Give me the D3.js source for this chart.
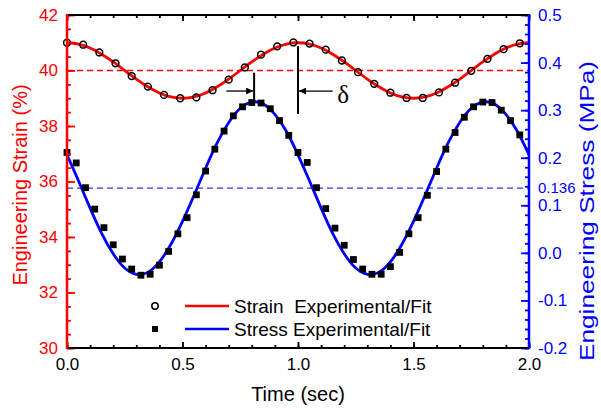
<!DOCTYPE html>
<html>
<head>
<meta charset="utf-8">
<script src="https://cdn.jsdelivr.net/npm/d3@7"></script>
<style>
  body { margin: 0; background: #fff; }
  text { font-family: "Liberation Sans", Arial, sans-serif; }
</style>
</head>
<body>
<div id="container"></div>
<script>
var width = 601,
    height = 410;

// strain experimental (open circles)
var strainTime = [0, 0.07, 0.14, 0.21, 0.28, 0.35, 0.42, 0.49, 0.56, 0.63, 0.70, 0.77, 0.84, 0.91, 0.98,
    1.05, 1.12, 1.19, 1.26, 1.33, 1.40, 1.47, 1.54, 1.61, 1.68, 1.75, 1.82, 1.89, 1.96];
var strainExp = [41.00, 40.93, 40.65, 40.26, 39.80, 39.42, 39.12, 39.00, 39.03, 39.29, 39.67, 40.11, 40.57, 40.87, 41.01,
    40.97, 40.75, 40.36, 39.94, 39.52, 39.20, 39.01, 39.01, 39.21, 39.56, 39.99, 40.42, 40.77, 40.98];

// stress experimental (filled squares)
var stressTime = [0, 0.04, 0.08, 0.12, 0.16, 0.20, 0.24, 0.28, 0.32, 0.36, 0.40, 0.44, 0.48, 0.52, 0.56, 0.60,
    0.64, 0.68, 0.72, 0.76, 0.80, 0.84, 0.88, 0.92, 0.96, 1.00, 1.04, 1.08, 1.12, 1.16, 1.20, 1.24, 1.28,
    1.32, 1.36, 1.40, 1.44, 1.48, 1.52, 1.56, 1.60, 1.64, 1.68, 1.72, 1.76, 1.80, 1.84, 1.88, 1.92, 1.96];
var stressExp = [0.211, 0.189, 0.137, 0.092, 0.053, 0.017, -0.013, -0.034, -0.047, -0.045, -0.026, 0.003, 0.040,
    0.074, 0.122, 0.172, 0.218, 0.256, 0.288, 0.307, 0.316, 0.315, 0.303, 0.278, 0.247, 0.211, 0.190, 0.137,
    0.093, 0.052, 0.016, -0.014, -0.034, -0.045, -0.045, -0.029, 0.001, 0.040, 0.074, 0.121, 0.171, 0.218,
    0.253, 0.285, 0.307, 0.317, 0.316, 0.300, 0.278, 0.248];

// fit curves
var fitTime = [0, 0.05, 0.10, 0.15, 0.20, 0.25, 0.30, 0.35, 0.40, 0.45, 0.50, 0.55, 0.60, 0.65, 0.70, 0.75,
    0.80, 0.85, 0.90, 0.95, 1.00, 1.05, 1.10, 1.15, 1.20, 1.25, 1.30, 1.35, 1.40, 1.45, 1.50, 1.55, 1.60,
    1.65, 1.70, 1.75, 1.80, 1.85, 1.90, 1.95, 2.00];
var strainFit = [41.000, 40.951, 40.809, 40.588, 40.309, 40.000, 39.691, 39.412, 39.191, 39.049, 39.000,
    39.049, 39.191, 39.412, 39.691, 40.000, 40.309, 40.588, 40.809, 40.951, 41.000,
    40.951, 40.809, 40.588, 40.309, 40.000, 39.691, 39.412, 39.191, 39.049, 39.000,
    39.049, 39.191, 39.412, 39.691, 40.000, 40.309, 40.588, 40.809, 40.951, 41.000];
var stressFit = [0.206, 0.151, 0.094, 0.041, -0.002, -0.032, -0.045, -0.041, -0.019, 0.018, 0.066,
    0.121, 0.178, 0.231, 0.274, 0.304, 0.317, 0.313, 0.291, 0.255, 0.206,
    0.151, 0.094, 0.041, -0.002, -0.032, -0.045, -0.041, -0.019, 0.018, 0.066,
    0.121, 0.178, 0.231, 0.274, 0.304, 0.317, 0.313, 0.291, 0.255, 0.206];

var strainMean = 40, stressMean = 0.136;

var xTicks = [0, 0.5, 1.0, 1.5, 2.0];
var leftTicks = [30, 32, 34, 36, 38, 40, 42];
var rightTicks = [-0.2, -0.1, 0.0, 0.1, 0.2, 0.3, 0.4, 0.5];

// phase lag annotation (time of stress peak, time of strain peak)
var deltaFrom = 0.81, deltaTo = 1.0;

var red = "#ff0000", blue = "#0000ff";

var svg = d3.select("#container")
    .append("svg")
    .attr("width", width)
    .attr("height", height);

var x = d3.scaleLinear().domain([0, 2]).range([67, 529]);
var yL = d3.scaleLinear().domain([30, 42]).range([348, 15]);
var yR = d3.scaleLinear().domain([-0.2, 0.5]).range([348, 15]);

// dashed mean lines
svg.append("line")
    .attr("x1", x(0)).attr("x2", x(2))
    .attr("y1", yL(strainMean)).attr("y2", yL(strainMean))
    .attr("stroke", red).attr("stroke-width", 1.3)
    .attr("stroke-dasharray", "6,4");
svg.append("line")
    .attr("x1", x(0)).attr("x2", x(2))
    .attr("y1", yR(stressMean)).attr("y2", yR(stressMean))
    .attr("stroke", "#3030ff").attr("stroke-width", 1.3)
    .attr("stroke-dasharray", "6,4");

// fit lines
var strainLine = d3.line()
    .x(function (d, i) { return x(fitTime[i]) })
    .y(function (d) { return yL(d) })
    .curve(d3.curveNatural);
var stressLine = d3.line()
    .x(function (d, i) { return x(fitTime[i]) })
    .y(function (d) { return yR(d) })
    .curve(d3.curveNatural);

svg.append("path")
    .attr("d", strainLine(strainFit))
    .attr("fill", "none").attr("stroke", red).attr("stroke-width", 2.8);
svg.append("path")
    .attr("d", stressLine(stressFit))
    .attr("fill", "none").attr("stroke", blue).attr("stroke-width", 2.8);

// experimental markers
svg.append("g")
    .selectAll("circle")
    .data(strainExp)
    .enter().append("circle")
    .attr("cx", function (d, i) { return x(strainTime[i]) })
    .attr("cy", function (d) { return yL(d) })
    .attr("r", 3.4)
    .attr("fill", "none")
    .attr("stroke", "black")
    .attr("stroke-width", 1.5);

svg.append("g")
    .selectAll("rect")
    .data(stressExp)
    .enter().append("rect")
    .attr("x", function (d, i) { return x(stressTime[i]) - 3.4 })
    .attr("y", function (d) { return yR(d) - 3.4 })
    .attr("width", 6.8)
    .attr("height", 6.8)
    .attr("fill", "black");

// delta annotation
var defs = svg.append("defs");
defs.append("marker")
    .attr("id", "arrow")
    .attr("viewBox", "0 0 10 10")
    .attr("refX", 10).attr("refY", 5)
    .attr("markerWidth", 8).attr("markerHeight", 7)
    .attr("markerUnits", "userSpaceOnUse")
    .attr("orient", "auto")
    .append("path")
    .attr("d", "M0,0L10,5L0,10z")
    .attr("fill", "black");

var ann = svg.append("g").attr("stroke", "black").attr("stroke-width", 2);
ann.append("line")
    .attr("x1", x(deltaFrom)).attr("x2", x(deltaFrom))
    .attr("y1", yL(39.92)).attr("y2", yL(38.95));
ann.append("line")
    .attr("x1", x(deltaTo)).attr("x2", x(deltaTo))
    .attr("y1", yL(40.88)).attr("y2", yL(38.43));
ann.append("line")
    .attr("x1", x(deltaFrom - 0.12)).attr("x2", x(deltaFrom) - 1)
    .attr("y1", yL(39.26)).attr("y2", yL(39.26))
    .attr("stroke-width", 1.3)
    .attr("marker-end", "url(#arrow)");
ann.append("line")
    .attr("x1", x(deltaTo + 0.15)).attr("x2", x(deltaTo) + 1)
    .attr("y1", yL(39.26)).attr("y2", yL(39.26))
    .attr("stroke-width", 1.3)
    .attr("marker-end", "url(#arrow)");
svg.append("text")
    .attr("x", x(deltaTo + 0.17))
    .attr("y", 103)
    .style("font-family", "'Liberation Serif', 'DejaVu Serif', serif")
    .style("font-size", "25px")
    .text("δ");

// axes
function styleAxis(g, color) {
    g.selectAll("line").attr("stroke", color).attr("stroke-width", 1.8);
    g.selectAll("text").attr("fill", color).style("font-size", "17px")
        .style("font-family", "'Liberation Sans', Arial, sans-serif");
    g.select(".domain").remove();
}

var bottomAxis = svg.append("g").attr("transform", "translate(0,348)")
    .call(d3.axisBottom(x).tickValues(xTicks).tickSize(-6).tickPadding(10)
        .tickFormat(function (d) { return d.toFixed(1) }));
styleAxis(bottomAxis, "black");
var bottomMinor = svg.append("g").attr("transform", "translate(0,348)")
    .call(d3.axisBottom(x).ticks(20).tickSize(-3).tickFormat(""));
styleAxis(bottomMinor, "black");

var topAxis = svg.append("g").attr("transform", "translate(0,15)")
    .call(d3.axisTop(x).tickValues(xTicks).tickSize(-6).tickFormat(""));
styleAxis(topAxis, "black");
var topMinor = svg.append("g").attr("transform", "translate(0,15)")
    .call(d3.axisTop(x).ticks(20).tickSize(-3).tickFormat(""));
styleAxis(topMinor, "black");

var leftAxis = svg.append("g").attr("transform", "translate(67,0)")
    .call(d3.axisLeft(yL).tickValues(leftTicks).tickSize(-8).tickPadding(9)
        .tickFormat(d3.format("d")));
styleAxis(leftAxis, red);
var leftMinor = svg.append("g").attr("transform", "translate(67,0)")
    .call(d3.axisLeft(yL).ticks(30).tickSize(-4).tickFormat(""));
styleAxis(leftMinor, red);

var rightAxis = svg.append("g").attr("transform", "translate(529,0)")
    .call(d3.axisRight(yR).tickValues(rightTicks).tickSize(-8).tickPadding(9)
        .tickFormat(function (d) { return Math.abs(d) < 1e-9 ? "0.0" : d.toFixed(1) }));
styleAxis(rightAxis, blue);
var rightMinor = svg.append("g").attr("transform", "translate(529,0)")
    .call(d3.axisRight(yR).ticks(35).tickSize(-4).tickFormat(""));
styleAxis(rightMinor, blue);

// frame lines
svg.append("line").attr("x1", 66).attr("x2", 530).attr("y1", 15).attr("y2", 15)
    .attr("stroke", "black").attr("stroke-width", 2);
svg.append("line").attr("x1", 66).attr("x2", 530).attr("y1", 348).attr("y2", 348)
    .attr("stroke", "black").attr("stroke-width", 2);
svg.append("line").attr("x1", 67).attr("x2", 67).attr("y1", 14).attr("y2", 349)
    .attr("stroke", red).attr("stroke-width", 2.5);
svg.append("line").attr("x1", 529).attr("x2", 529).attr("y1", 14).attr("y2", 349)
    .attr("stroke", blue).attr("stroke-width", 2.5);

// 0.136 label
svg.append("text")
    .attr("x", 538).attr("y", yR(stressMean)).attr("dy", "0.35em")
    .attr("fill", blue).style("font-size", "15px")
    .text(stressMean);

// axis titles
svg.append("text")
    .attr("transform", "translate(27,185) rotate(-90)")
    .attr("text-anchor", "middle")
    .attr("fill", red).style("font-size", "20px")
    .text("Engineering Strain (%)");
svg.append("text")
    .attr("transform", "translate(594,211) rotate(-90)")
    .attr("text-anchor", "middle")
    .attr("fill", blue).style("font-size", "20px")
    .attr("textLength", 300).attr("lengthAdjust", "spacingAndGlyphs")
    .text("Engineering Stress (MPa)");
svg.append("text")
    .attr("x", 298).attr("y", 401)
    .attr("text-anchor", "middle")
    .attr("fill", "black").style("font-size", "20px")
    .text("Time (sec)");

// legend
var legend = svg.append("g");
legend.append("circle").attr("cx", 155).attr("cy", 306).attr("r", 3.2)
    .attr("fill", "none").attr("stroke", "black").attr("stroke-width", 1.5);
legend.append("line").attr("x1", 185).attr("x2", 229).attr("y1", 306).attr("y2", 306)
    .attr("stroke", red).attr("stroke-width", 2.5);
legend.append("text").attr("x", 234).attr("y", 313)
    .style("font-size", "19px").style("white-space", "pre")
    .text("Strain  Experimental/Fit");
legend.append("rect").attr("x", 152).attr("y", 326).attr("width", 6).attr("height", 6)
    .attr("fill", "black");
legend.append("line").attr("x1", 185).attr("x2", 229).attr("y1", 329).attr("y2", 329)
    .attr("stroke", blue).attr("stroke-width", 2.5);
legend.append("text").attr("x", 234).attr("y", 336)
    .style("font-size", "19px")
    .text("Stress Experimental/Fit");
</script>
</body>
</html>
